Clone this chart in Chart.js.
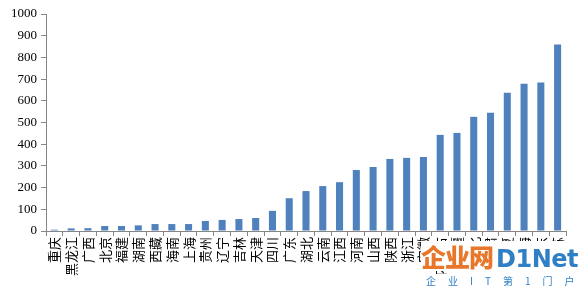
<!DOCTYPE html>
<html lang="zh">
<head>
  <meta charset="UTF-8" />
  <title>各省数据</title>
  <script src="https://cdn.jsdelivr.net/npm/chart.js"></script>
  <style>
    body { margin: 0; background: #fff; }
    .wrap { position: relative; width: 581px; height: 288px; overflow: hidden; }
    .logo {
      position: absolute; left: 421px; top: 241px; height: 30px; width: 160px;
      background: #fff; white-space: nowrap;
      font-family: "Noto Sans CJK SC", sans-serif; font-weight: 900;
      font-size: 25px; line-height: 30px; color: #e8762b; letter-spacing: -1px;
    }
    .logo b { color: #2f7fc6; font-family: "DejaVu Sans", sans-serif; font-size: 24px; margin-left: 3px; letter-spacing: -0.5px; }
    .slogan {
      position: absolute; left: 426px; top: 274px; width: 155px; background: #fff;
      font-family: "Noto Sans CJK SC", sans-serif; font-size: 10px; line-height: 14px; color: #2f7fc6;
      letter-spacing: 12px; white-space: nowrap;
    }
  </style>
</head>
<body>
<div class="wrap">
  <canvas id="c" width="581" height="288"></canvas>
  <div class="logo">企业网<b>D1Net</b></div>
  <div class="slogan">企业IT第1门户</div>
</div>
<script>
  const provinces = ["重庆","黑龙江","广西","北京","福建","湖南","西藏","海南","上海","贵州",
    "辽宁","吉林","天津","四川","广东","湖北","云南","江西","河南","山西",
    "陕西","浙江","安徽","内蒙古","新疆","河北","甘肃","宁夏","青海","山东","江苏"];
  const values = [6,12,13,23,23,26,32,32,32,46,
    51,55,60,93,151,184,207,225,281,295,
    332,337,341,443,452,526,545,637,679,684,860];
  const yTicks = [0,100,200,300,400,500,600,700,800,900,1000];

  const axisGray = "#868686";

  new Chart(document.getElementById("c"), {
    type: "bar",
    data: {
      labels: provinces,
      datasets: [{
        data: values,
        backgroundColor: "#4f81bd",
        barPercentage: 0.42,
        categoryPercentage: 1
      }]
    },
    options: {
      responsive: false,
      animation: false,
      layout: { padding: { top: 14, right: 15, left: 0, bottom: 0 } },
      plugins: { legend: { display: false }, tooltip: { enabled: false } },
      scales: {
        x: {
          offset: true,
          border: { color: axisGray },
          grid: { offset: true, drawOnChartArea: false, color: axisGray, tickLength: 5 },
          ticks: {
            autoSkip: false, maxRotation: 90, minRotation: 90, padding: 1,
            color: "#000", font: { family: "Noto Sans CJK SC", size: 13 }
          },
          afterFit: s => { s.height = 57; }
        },
        y: {
          min: 0, max: 1000,
          border: { color: axisGray },
          grid: { drawOnChartArea: false, color: axisGray, tickLength: 5 },
          afterBuildTicks: s => { s.ticks = yTicks.map(v => ({ value: v })); },
          ticks: {
            padding: 4, color: "#000",
            font: { family: "Liberation Serif", size: 13 },
            callback: v => String(v)
          },
          afterFit: s => { s.width = 46; }
        }
      }
    }
  });
</script>
</body>
</html>
